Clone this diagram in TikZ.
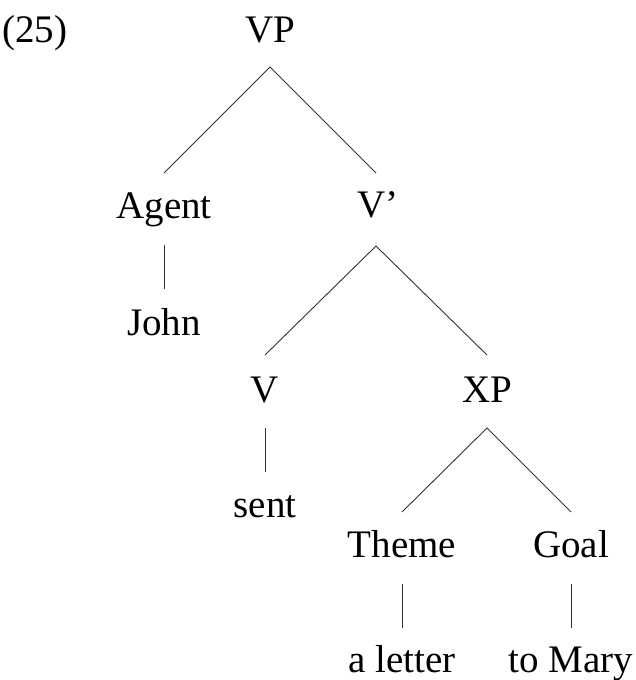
\documentclass[tikz,border=0pt]{standalone}
\usepackage{fontspec}
\setmainfont{Liberation Serif}
\usetikzlibrary{calc}
\begin{document}
\begin{tikzpicture}[x=1pt,y=-1pt,
  lbl/.style={anchor=base,inner sep=0pt,font=\fontsize{39}{47}\selectfont},
  branch/.style={line width=0.9pt,draw=black!80}]
\useasboundingbox (0,0) rectangle (636,680);
% labels, placed on their baselines
\node[lbl] (num)    at (35,42)   {(25)};
\node[lbl] (vp)     at (270,42)  {VP};
\node[lbl] (agent)  at (164,218) {Agent};
\node[lbl] (vbar)   at (378,217) {V’};
\node[lbl] (john)   at (164,335) {John};
\node[lbl] (v)      at (265,402) {V};
\node[lbl] (xp)     at (487,402) {XP};
\node[lbl] (sent)   at (265,517) {sent};
\node[lbl] (theme)  at (402,557) {Theme};
\node[lbl] (goal)   at (571,557) {Goal};
\node[lbl] (letter) at (402,672) {a letter};
\node[lbl] (mary)   at (571,672) {to Mary};
% branching edges: from below the mother's baseline to above the daughter's cap line
\draw[branch] ($(agent.base)+(0,-45)$) -- ($(vp.base)+(0,25)$) -- ($(vbar.base)+(-2,-44)$);
\draw[branch] ($(v.base)+(0,-47)$) -- ($(vbar.base)+(-2,29)$) -- ($(xp.base)+(0,-47)$);
\draw[branch] ($(theme.base)+(0,-45)$) -- ($(xp.base)+(0,26)$) -- ($(goal.base)+(0,-45)$);
% unary edges
\draw[branch] ($(agent.base)+(0,27)$) -- ($(john.base)+(0,-46)$);
\draw[branch] ($(v.base)+(0,26)$) -- ($(sent.base)+(0,-45)$);
\draw[branch] ($(theme.base)+(0,27)$) -- ($(letter.base)+(0,-44)$);
\draw[branch] ($(goal.base)+(0,27)$) -- ($(mary.base)+(0,-44)$);
\end{tikzpicture}
\end{document}
